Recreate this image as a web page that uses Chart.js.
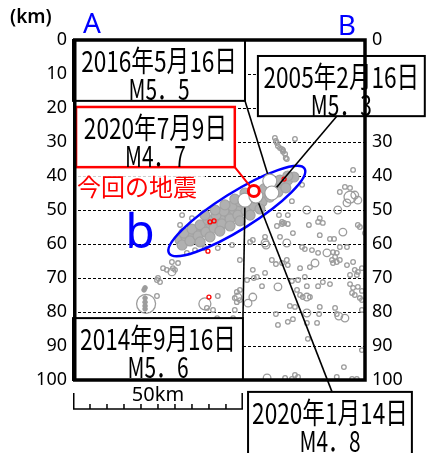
<!DOCTYPE html>
<html><head><meta charset="utf-8">
<script src="https://cdn.jsdelivr.net/npm/chart.js@4.4.1/dist/chart.umd.min.js"></script>
<style>html,body{margin:0;padding:0;background:#fff;overflow:hidden}</style>
</head><body>
<canvas id="c" width="427" height="453"></canvas>
<script>
// ---- axis settings (km) ----
const depthMin = 0, depthMax = 100, depthStep = 10;
const distMaxKm = 86.2;
const scaleBarKm = 50, scaleBarStep = 5;

// ---- hypocentres [distance km, depth km] ----
const bandQuakes = [
 [31.5,58.8],[33.2,57.9],[35.0,56.8],[36.8,55.9],[38.5,55.0],[40.3,53.8],[42.1,52.9],[43.8,52.1],[45.6,50.9],[47.4,50.0],
 [49.1,49.1],[50.9,47.9],[52.6,47.1],[54.4,46.2],[56.2,45.0],[57.9,44.1],[59.7,42.9],[61.5,42.1],[63.2,41.2],[65.0,40.3],
 [32.6,56.8],[35.0,55.6],[37.4,54.4],[39.7,52.9],[42.1,51.5],[44.4,50.3],[46.8,48.8],[49.1,47.6],[51.5,46.2],[53.8,45.0],
 [56.2,43.8],[58.5,42.6],[60.9,41.2],[63.2,40.0],
 [32.1,60.3],[34.4,59.1],[36.8,57.6],[39.1,56.5],[41.5,55.3],[43.8,54.1],[46.2,52.6],[48.5,51.5],[50.9,50.3],[53.2,48.8],
 [55.6,47.6],[57.9,46.2],[60.3,44.7],[62.6,43.5],
 [37.4,59.4],[40.3,57.9],[43.2,56.2],[46.2,54.7],[49.1,53.2],[52.1,51.5],[55.0,49.7],
 [38.8,51.5],[41.8,50.0],[44.7,48.5],[47.6,46.8],[50.6,45.0]
];
const smallQuakes = [
 [59.4,28.8],[59.7,29.7],[60.0,30.3],[60.3,31.2],[60.9,31.8],[61.5,32.1],[61.8,32.4],[61.8,32.9],[62.4,33.5],[62.6,34.7],[62.9,35.0],[65.3,29.1],
 [82.4,38.2],[78.5,44.7],[80.0,43.2],[81.5,43.5],[67.4,42.6],[64.4,47.4],
 [85.9,56.8],[83.8,54.4],[84.4,55.0],[72.6,52.4],[72.1,53.5],[73.5,53.8],[69.4,54.4],[72.6,57.4],[61.5,54.1],[62.1,53.8],[63.2,54.1],[60.0,54.7],
 [64.7,56.8],[60.6,51.5],[63.2,51.5],[75.6,58.5],[76.8,58.5],[67.4,60.9],[68.2,61.5],[70.3,61.8],[72.1,62.6],[76.5,62.4],[77.6,62.6],[78.5,60.9],
 [80.6,60.9],[77.1,63.8],[76.2,64.7],[77.6,65.3],[76.5,65.6],[78.5,64.7],[80.6,66.2],[82.4,65.3],[82.9,67.6],[83.8,68.2],[81.5,69.1],[83.5,69.1],
 [85.0,67.1],[69.7,66.8],[66.8,67.1],[62.9,64.7],[63.2,66.2],[61.5,65.6],[59.7,65.9],[58.5,64.7],[52.9,67.6],[53.2,70.0],[51.2,70.6],[54.1,69.7],
 [56.5,68.5],[64.4,70.9],[66.2,70.6],[68.2,69.7],[68.8,72.4],[72.1,72.4],[73.5,71.2],[75.6,71.8],[81.5,71.8],[82.4,72.9],[83.8,72.6],[85.0,73.8],
 [49.1,73.5],[55.6,72.4],[65.9,73.5],
 [66.8,75.0],[67.6,75.6],[69.7,75.6],[82.1,74.4],[82.9,75.0],[84.4,75.9],[85.0,76.5],[63.8,78.2],[65.3,78.5],[72.6,78.5],[77.1,78.8],[77.6,80.6],
 [85.0,79.4],[59.7,80.6],[72.4,80.6],[71.8,83.2],[64.7,82.1],[63.2,82.9],[60.3,83.8],[68.8,83.2],[69.1,87.9],[85.0,91.2],[79.7,96.2],[77.6,99.1],
 [62.4,99.4],[64.4,99.7],[65.3,98.5],[66.2,99.1],[82.1,99.7],[83.5,99.7],[8.8,99.8],[19.7,99.8],
 [26.5,67.1],[27.6,67.6],[29.4,67.1],[30.0,67.6],[30.9,65.6],[24.7,70.6],[25.6,71.2],[25.0,70.0],[24.7,75.3],[39.4,78.8],[42.6,75.3],[42.4,81.8],
 [49.1,64.7],[48.2,74.1],[47.6,75.9],[49.1,76.5],[48.2,77.1],[47.6,79.4],[47.1,81.8],[41.2,79.4],[29.1,65.3],
 [31.5,54.4],[33.5,62.6],[35.9,61.8],[38.8,61.2],[42.6,61.2],[46.8,60.3],[52.1,59.4],[52.9,58.8],[61.5,53.5],[60.9,57.9],[56.5,57.9],[32.1,51.5],[35.0,52.4]
];
const mediumQuakes = [
 [83.8,47.1],[82.9,45.6],[80.6,47.9],[68.8,50.0],[77.9,50.0],[79.4,56.5],[62.9,59.7],[56.8,60.3],[74.7,62.6],[71.2,65.6],
 [60.3,72.6],[52.9,75.6],[51.5,77.4],[68.8,75.6],[78.2,81.2],[80.0,81.8],[68.8,80.3],[57.1,99.4],[56.5,59.7],[29.1,68.2],[48.5,75.6]
];
const largeQuakes = [[81.5,46.2],[38.8,77.6]];
const giantQuakes = [[21.5,77.6]];
const filledQuakes = [[21.2,72.9],[20.9,73.5],[21.2,75.9],[21.2,77.1],[21.2,78.2],[21.2,79.1]];
const redQuakes = [[40.3,53.5],[41.5,53.2],[39.7,62.1],[40.0,75.6],[62.1,40.9]];
// notable events: 2014-09-16, 2016-05-16, 2005-02-16, 2020-01-14
const majorQuakes = [[50.6,47.1],[57.9,41.5],[58.5,45.0],[53.8,45.9]];
const mainShock = [[53.2,44.4]]; // 2020-07-09

// ---- annotation texts ----
const boxDates = ['2016年5月16日','2020年7月9日','2005年2月16日','2014年9月16日','2020年1月14日'];
const boxMags  = ['M5．5','M4．7','M5．3','M5．6','M4．8'];
const focusLabel = '今回の地震';
const regionLabel = 'b';
const endLabels = ['A','B'];
const unitLabel = '(km)';
const scaleLabel = '50km';

const GRAY = '#9c9c9c';
const BLUE = '#0000ff';
const RED = '#ff0000';

// box layout in km (x0,x1,d0,d1), leader anchor and target event
const boxes = [
 {x0:0,    x1:50.6,  d0:0,     d1:17.9,  col:'#000', lw:2,   anc:[50.6,17.9], tgt:majorQuakes[1], lc:'#000'},
 {x0:0.9,  x1:47.6,  d0:19.7,  d1:37.4,  col:RED,    lw:2.5, anc:[47.6,37.4], tgt:mainShock[0],   lc:RED},
 {x0:54.4, x1:103.5, d0:4.7,   d1:22.4,  col:'#000', lw:2,   anc:[77.6,22.4], tgt:majorQuakes[2], lc:'#000'},
 {x0:0,    x1:50.0,  d0:81.8,  d1:100,   col:'#000', lw:2,   anc:[50.0,81.8], tgt:majorQuakes[0], lc:'#000'},
 {x0:51.5, x1:99.7,  d0:103.5, d1:122.4, col:'#000', lw:2,   anc:[76.2,103.5],tgt:majorQuakes[3], lc:'#000'}
];

const toXY = a => a.map(p => ({x:p[0], y:p[1]}));

function cText(ctx, t, cx, cy, size, sx, color, family){
  ctx.save(); ctx.translate(cx, cy); ctx.scale(sx, 1);
  ctx.font = size + 'px ' + (family || '"Noto Sans CJK JP"');
  ctx.textAlign = 'center'; ctx.textBaseline = 'middle';
  ctx.fillStyle = color; ctx.fillText(t, 0, 0); ctx.restore();
}

const overlay = {
  id: 'overlay',
  afterDatasetDraw(chart, args){
    if (args.index !== 2) return;
    const ctx = chart.ctx, xs = chart.scales.x, ys = chart.scales.y;
    const X = v => xs.getPixelForValue(v), Y = v => ys.getPixelForValue(v);
    const kpx = X(1) - X(0);
    ctx.save();
    // ellipse b
    ctx.beginPath();
    ctx.ellipse(X(48.2), Y(50.3), 23.5*kpx, 5.4*kpx, -32*Math.PI/180, 0, Math.PI*2);
    ctx.strokeStyle = BLUE; ctx.lineWidth = 2.5; ctx.stroke();
    // leader lines
    boxes.forEach(b => {
      ctx.beginPath(); ctx.moveTo(X(b.anc[0]), Y(b.anc[1])); ctx.lineTo(X(b.tgt[0]), Y(b.tgt[1]));
      ctx.strokeStyle = b.lc; ctx.lineWidth = b.lc === RED ? 2 : 1.6; ctx.stroke();
    });
    ctx.restore();
  },
  afterDatasetsDraw(chart){
    const ctx = chart.ctx, xs = chart.scales.x, ys = chart.scales.y, ca = chart.chartArea;
    const X = v => xs.getPixelForValue(v), Y = v => ys.getPixelForValue(v);
    ctx.save();
    // faded backdrop behind label
    ctx.fillStyle = 'rgba(255,255,255,0.8)';
    ctx.fillRect(X(0.9), Y(37.9), X(38.8)-X(0.9), Y(47.3)-Y(37.9));
    // boxes
    boxes.forEach((b, i) => {
      const x0 = X(b.x0), x1 = X(b.x1), y0 = Y(b.d0), y1 = Y(b.d1);
      ctx.fillStyle = '#fff'; ctx.fillRect(x0, y0, x1-x0, y1-y0);
      ctx.strokeStyle = b.col; ctx.lineWidth = b.lw; ctx.strokeRect(x0, y0, x1-x0, y1-y0);
      const cx = (x0 + x1) / 2;
      cText(ctx, boxDates[i], cx, y0 + 21, 29, 0.78, '#000');
      cText(ctx, boxMags[i], cx, y0 + 49, 29, 0.72, '#000');
    });
    // frame
    ctx.strokeStyle = '#000'; ctx.lineWidth = 3.5;
    ctx.strokeRect(ca.left + 1.75, ca.top, ca.right - ca.left - 2.75, ca.bottom - ca.top);
    // labels
    ctx.font = '24px "Noto Sans CJK JP"'; ctx.fillStyle = RED; ctx.textAlign = 'left'; ctx.textBaseline = 'middle';
    ctx.fillText(focusLabel, X(1.2), Y(43.3));
    ctx.font = '48px "Noto Sans"'; ctx.fillStyle = BLUE; ctx.textAlign = 'center'; ctx.textBaseline = 'middle';
    ctx.fillText(regionLabel, X(19.7), Y(57.2));
    ctx.font = '28px "Noto Sans"';
    ctx.fillText(endLabels[0], X(5.6), Y(-4.5));
    ctx.fillText(endLabels[1], X(80.6), Y(-3.9));
    ctx.font = '600 19px "Noto Sans"'; ctx.fillStyle = '#000';
    ctx.fillText(unitLabel, X(-12.4), Y(-6.6));
    // scale bar
    const by = ca.bottom + 29;
    ctx.strokeStyle = '#000'; ctx.lineWidth = 1.5; ctx.lineCap = 'butt';
    ctx.beginPath(); ctx.moveTo(X(0), by); ctx.lineTo(X(scaleBarKm), by); ctx.stroke();
    for (let k = 0; k <= scaleBarKm; k += scaleBarStep) {
      const end = (k === 0 || k === scaleBarKm);
      const off = k === 0 ? 0.75 : (end ? -0.75 : 0);
      ctx.beginPath(); ctx.moveTo(X(k) + off, by); ctx.lineTo(X(k) + off, by - (end ? 16 : 5)); ctx.stroke();
    }
    ctx.font = '20px "Noto Sans"'; ctx.fillStyle = '#000'; ctx.textAlign = 'center'; ctx.textBaseline = 'middle';
    ctx.fillText(scaleLabel, X(scaleBarKm/2), by - 14);
    ctx.restore();
  }
};

const depthAxis = (pos, w) => ({
  type:'linear', position:pos, reverse:true, min:depthMin, max:depthMax,
  ticks:{stepSize:depthStep, color:'#000', font:{family:'Noto Sans', size:18}, padding:6},
  grid:{display: pos === 'left', color:'#000', lineWidth:1, drawTicks:false},
  border:{display:false, dash:[3,2]},
  afterFit(s){ s.width = w; }
});

new Chart(document.getElementById('c'), {
  type:'scatter',
  data:{ datasets:[
    {label:'main', data:toXY(mainShock), pointRadius:5.5, borderWidth:3, borderColor:RED, backgroundColor:'#fff'},
    {label:'major', data:toXY(majorQuakes), pointRadius:7, borderWidth:1.2, borderColor:GRAY, backgroundColor:'#fff'},
    {label:'red', data:toXY(redQuakes), pointRadius:2, borderWidth:1.3, borderColor:RED, backgroundColor:'rgba(0,0,0,0)'},
    {label:'giant', data:toXY(giantQuakes), pointRadius:9.5, borderWidth:1.3, borderColor:GRAY, backgroundColor:'rgba(0,0,0,0)'},
    {label:'large', data:toXY(largeQuakes), pointRadius:6, borderWidth:1.3, borderColor:GRAY, backgroundColor:'rgba(0,0,0,0)'},
    {label:'medium', data:toXY(mediumQuakes), pointRadius:3.8, borderWidth:1.3, borderColor:GRAY, backgroundColor:'rgba(0,0,0,0)'},
    {label:'small', data:toXY(smallQuakes), pointRadius:2.3, borderWidth:1.3, borderColor:GRAY, backgroundColor:'rgba(0,0,0,0)'},
    {label:'filled', data:toXY(filledQuakes), pointRadius:2.3, borderWidth:1, borderColor:GRAY, backgroundColor:GRAY},
    {label:'band', data:toXY(bandQuakes), pointRadius:5, borderWidth:1.2, borderColor:'#a2a2a2', backgroundColor:'#b0b0b0'}
  ]},
  options:{
    responsive:false, animation:false, devicePixelRatio:1,
    layout:{padding:{top:40, bottom:73, left:0, right:0}},
    plugins:{legend:{display:false}, tooltip:{enabled:false}},
    scales:{
      x:{type:'linear', min:0, max:distMaxKm, display:false},
      y:depthAxis('left', 73),
      y2:depthAxis('right', 61)
    }
  },
  plugins:[overlay]
});
</script>
</body></html>
